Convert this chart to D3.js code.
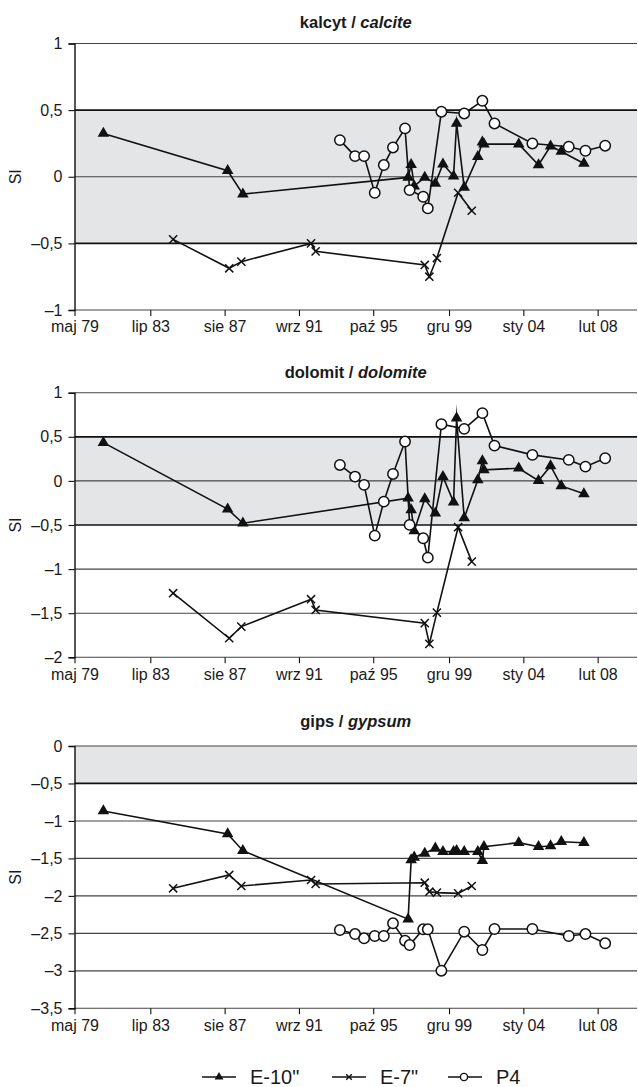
<!DOCTYPE html>
<html>
<head>
<meta charset="utf-8">
<script src="https://cdn.jsdelivr.net/npm/d3@7"></script>
<style>
  body { margin: 0; background: #fff; }
  text { font-family: "Liberation Sans", Arial, sans-serif; fill: #1a1a1a; }
</style>
</head>
<body>
<div id="chart"></div>
<script>
var svgWidth = 638;
var svgHeight = 1087;

// x axis: tick dates and their (Polish) labels
var tickDates = ["1979-05", "1983-07", "1987-08", "1991-09", "1995-10", "1999-12", "2004-01", "2008-02"];
var tickLabels = ["maj 79", "lip 83", "sie 87", "wrz 91", "paź 95", "gru 99", "sty 04", "lut 08"];
var axisStart = "1979-05";
var axisEnd = "2010-04";

// sampling dates of each well
var e10Dates = ["1980-12", "1987-10", "1988-08", "1997-09", "1997-11", "1998-01", "1998-08", "1999-03",
  "1999-08", "2000-03", "2000-05", "2000-10", "2001-07", "2001-10", "2001-11", "2003-10", "2004-11",
  "2005-07", "2006-02", "2007-05"];
var e7Dates = ["1984-10", "1987-11", "1988-07", "1992-05", "1992-08", "1998-08", "1998-11", "1999-04",
  "2000-06", "2001-03"];
var p4Dates = ["1993-12", "1994-10", "1995-04", "1995-11", "1996-05", "1996-11", "1997-07", "1997-10",
  "1998-07", "1998-10", "1999-07", "2000-10", "2001-10", "2002-06", "2004-07", "2006-07", "2007-06", "2008-07"];

// saturation index values - calcite
var calciteE10 = [0.325, 0.045, -0.13, -0.005, 0.09, -0.07, -0.005, -0.05, 0.095, 0.005, 0.40, -0.08,
  0.15, 0.26, 0.245, 0.245, 0.088, 0.23, 0.19, 0.10];
var calciteE7 = [-0.47, -0.687, -0.637, -0.50, -0.56, -0.662, -0.75, -0.61, -0.12, -0.255];
var calciteP4 = [0.275, 0.155, 0.155, -0.12, 0.088, 0.22, 0.363, -0.10, -0.15, -0.237, 0.488, 0.475,
  0.57, 0.40, 0.25, 0.225, 0.195, 0.233];

// dolomite
var dolomiteE10 = [0.434, -0.32, -0.48, -0.196, -0.33, -0.567, -0.204, -0.366, 0.049, -0.24, 0.71, -0.42,
  0.01, 0.227, 0.125, 0.144, 0.003, 0.17, -0.057, -0.147];
var dolomiteE7 = [-1.273, -1.784, -1.652, -1.341, -1.463, -1.613, -1.848, -1.493, -0.525, -0.915];
var dolomiteP4 = [0.181, 0.049, -0.045, -0.62, -0.235, 0.079, 0.446, -0.499, -0.65, -0.87, 0.643, 0.59,
  0.768, 0.40, 0.295, 0.238, 0.162, 0.257];

// gypsum
var gypsumE10 = [-0.867, -1.174, -1.397, -2.31, -1.52, -1.485, -1.432, -1.365, -1.41, -1.41, -1.397, -1.41,
  -1.41, -1.53, -1.344, -1.29, -1.344, -1.334, -1.277, -1.29];
var gypsumE7 = [-1.899, -1.721, -1.868, -1.788, -1.841, -1.824, -1.944, -1.957, -1.966, -1.868];
var gypsumP4 = [-2.455, -2.509, -2.566, -2.535, -2.535, -2.366, -2.598, -2.656, -2.446, -2.446, -2.998,
  -2.478, -2.722, -2.442, -2.442, -2.535, -2.509, -2.633];

var seriesNames = ["E-10\"", "E-7\"", "P4"];

var parseMonth = d3.timeParse("%Y-%m");

var plotLeft = 74.5;
var plotRight = 637;

var panels = [
  { title: "kalcyt", titleEn: "calcite", top: 43.5, bottom: 310, domain: [-1, 1], band: [-0.5, 0.5],
    titleY: 28, e10: calciteE10, e7: calciteE7, p4: calciteP4 },
  { title: "dolomit", titleEn: "dolomite", top: 392.7, bottom: 657.3, domain: [-2, 1], band: [-0.5, 0.5],
    titleY: 378, e10: dolomiteE10, e7: dolomiteE7, p4: dolomiteP4 },
  { title: "gips", titleEn: "gypsum", top: 746, bottom: 1008.3, domain: [-3.5, 0], band: [-0.5, 0],
    titleY: 727, e10: gypsumE10, e7: gypsumE7, p4: gypsumP4 }
];

var svg = d3.select("#chart")
  .append("svg")
  .attr("width", svgWidth)
  .attr("height", svgHeight);

var xScale = d3.scaleTime()
  .domain([parseMonth(axisStart), parseMonth(axisEnd)])
  .range([plotLeft, plotRight]);

// decimal comma and dash as minus, like the original
function fmt(v) {
  if (v === 0) return "0";
  return (v < 0 ? "\u2013" : "") + String(Math.abs(v)).replace(".", ",");
}

function zip(dates, values) {
  return dates.map(function(d, i) {
    return { date: parseMonth(d), value: values[i] };
  });
}

var triangle = d3.symbol().type(d3.symbolTriangle);
var cross = d3.symbol().type(d3.symbolX);

function drawSeries(g, data, yScale, kind) {
  var line = d3.line()
    .defined(function(d) { return d.value != null; })
    .x(function(d) { return xScale(d.date); })
    .y(function(d) { return yScale(d.value); });

  g.append("path")
    .datum(data)
    .attr("d", line)
    .attr("fill", "none")
    .attr("stroke", "#111")
    .attr("stroke-width", 1.6)
    .attr("stroke-linejoin", "miter")
    .attr("stroke-miterlimit", 30);

  var pts = g.selectAll(null).data(data.filter(function(d) { return d.value != null; })).enter();
  if (kind === "tri") {
    pts.append("path")
      .attr("d", triangle.size(58)())
      .attr("transform", function(d) { return "translate(" + xScale(d.date) + "," + yScale(d.value) + ")"; })
      .attr("fill", "#111");
  } else if (kind === "x") {
    pts.append("path")
      .attr("d", cross.size(45)())
      .attr("transform", function(d) { return "translate(" + xScale(d.date) + "," + yScale(d.value) + ")"; })
      .attr("fill", "none")
      .attr("stroke", "#111")
      .attr("stroke-width", 1.5);
  } else {
    pts.append("circle")
      .attr("cx", function(d) { return xScale(d.date); })
      .attr("cy", function(d) { return yScale(d.value); })
      .attr("r", 5.2)
      .attr("fill", "#fff")
      .attr("stroke", "#111")
      .attr("stroke-width", 1.5);
  }
}

panels.forEach(function(p) {
  var yScale = d3.scaleLinear().domain(p.domain).range([p.bottom, p.top]);
  var yTicks = d3.range(p.domain[0], p.domain[1] + 0.01, 0.5);
  var g = svg.append("g");

  // grey band of equilibrium
  g.append("rect")
    .attr("x", plotLeft)
    .attr("y", yScale(p.band[1]))
    .attr("width", plotRight - plotLeft)
    .attr("height", yScale(p.band[0]) - yScale(p.band[1]))
    .attr("fill", "#e4e5e7");

  // horizontal grid
  g.selectAll(".grid")
    .data(yTicks)
    .enter()
    .append("line")
    .attr("x1", plotLeft)
    .attr("x2", plotRight)
    .attr("y1", function(d) { return yScale(d); })
    .attr("y2", function(d) { return yScale(d); })
    .attr("stroke", function(d) { return (d === p.band[0] || d === p.band[1]) && d !== 0 ? "#111" : "#444"; })
    .attr("stroke-width", function(d) { return (d === p.band[0] || d === p.band[1]) && d !== 0 ? 1.7 : 1.1; });

  // y axis
  var leftAxis = d3.axisLeft(yScale).tickValues(yTicks).tickFormat(fmt).tickSize(6).tickPadding(6);
  var yAxis = g.append("g")
    .attr("transform", "translate(" + plotLeft + ",0)")
    .call(leftAxis);
  yAxis.select(".domain").attr("stroke", "#111").attr("stroke-width", 1.4);
  yAxis.selectAll(".tick line").attr("stroke", "#111").attr("stroke-width", 1.1);
  yAxis.selectAll("text").attr("font-size", "16px").attr("font-family", null).attr("fill", "#1a1a1a");

  // x axis
  var bottomAxis = d3.axisBottom(xScale)
    .tickValues(tickDates.map(parseMonth))
    .tickFormat(function(d, i) { return tickLabels[i]; })
    .tickSize(6)
    .tickPadding(5);
  var xAxis = g.append("g")
    .attr("transform", "translate(0," + p.bottom + ")")
    .call(bottomAxis);
  xAxis.select(".domain").remove();
  xAxis.selectAll(".tick line").attr("stroke", "#111").attr("stroke-width", 1.1);
  xAxis.selectAll("text").attr("font-size", "16px").attr("font-family", null).attr("fill", "#1a1a1a");

  // title
  var t = g.append("text")
    .attr("x", (plotLeft + plotRight) / 2)
    .attr("y", p.titleY)
    .attr("text-anchor", "middle")
    .attr("font-size", "16.5px")
    .attr("font-weight", "bold");
  t.append("tspan").text(p.title + " / ");
  t.append("tspan").attr("font-style", "italic").text(p.titleEn);

  // y label
  g.append("text")
    .attr("transform", "translate(21," + (p.top + p.bottom) / 2 + ") rotate(-90)")
    .attr("text-anchor", "middle")
    .attr("font-size", "16px")
    .text("SI");

  drawSeries(g, zip(e10Dates, p.e10), yScale, "tri");
  drawSeries(g, zip(e7Dates, p.e7), yScale, "x");
  drawSeries(g, zip(p4Dates, p.p4), yScale, "circle");
});

// legend
var legendY = 1077;
var legendX = [202, 332, 448];
var kinds = ["tri", "x", "circle"];
var legend = svg.append("g");
seriesNames.forEach(function(name, i) {
  var x0 = legendX[i];
  legend.append("line")
    .attr("x1", x0).attr("x2", x0 + 34)
    .attr("y1", legendY).attr("y2", legendY)
    .attr("stroke", "#111").attr("stroke-width", 1.6);
  if (kinds[i] === "tri") {
    legend.append("path").attr("d", triangle.size(34)())
      .attr("transform", "translate(" + (x0 + 17) + "," + legendY + ")").attr("fill", "#111");
  } else if (kinds[i] === "x") {
    legend.append("path").attr("d", cross.size(22)())
      .attr("transform", "translate(" + (x0 + 17) + "," + legendY + ")")
      .attr("fill", "none").attr("stroke", "#111").attr("stroke-width", 1.4);
  } else {
    legend.append("circle").attr("cx", x0 + 16).attr("cy", legendY).attr("r", 3.6)
      .attr("fill", "#fff").attr("stroke", "#111").attr("stroke-width", 1.4);
  }
  legend.append("text")
    .attr("x", x0 + 48)
    .attr("y", legendY + 7)
    .attr("font-size", "20px")
    .text(name);
});
</script>
</body>
</html>
